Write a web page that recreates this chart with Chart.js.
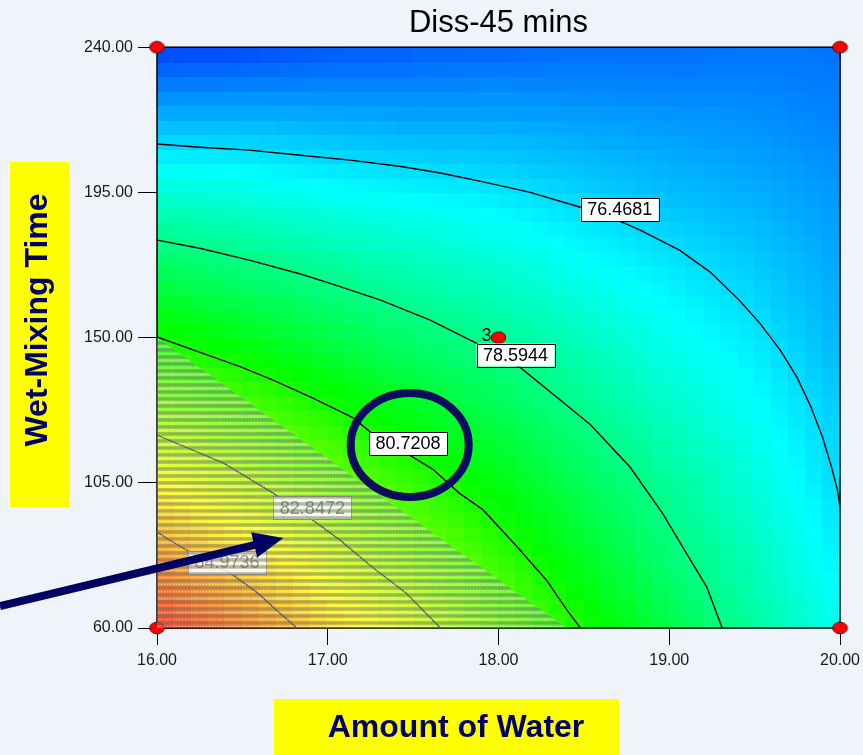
<!DOCTYPE html>
<html>
<head>
<meta charset="utf-8">
<script src="https://cdn.jsdelivr.net/npm/chart.js@4.4.1/dist/chart.umd.min.js"></script>
<style>
  body { margin: 0; background: #eff4fa; }
  canvas { display: block; }
</style>
</head>
<body>
<canvas id="contourChart" width="863" height="755"></canvas>
<script>
// grid of the response (rows from 240 down to 60)
const waterGrid = [16, 16.5, 17, 17.5, 18, 18.5, 19, 19.5, 20];
const timeGrid = [240, 217.5, 195, 172.5, 150, 127.5, 105, 82.5, 60];
const response = [
    [74.3, 74.4, 74.6, 74.7, 74.8, 74.9, 74.9, 75.0, 75.0],
    [75.9, 75.9, 75.8, 75.7, 75.7, 75.6, 75.5, 75.4, 75.2],
    [77.5, 77.3, 77.0, 76.8, 76.6, 76.3, 76.0, 75.8, 75.5],
    [79.1, 78.7, 78.3, 77.9, 77.5, 77.0, 76.6, 76.2, 75.7],
    [80.7, 80.1, 79.5, 78.9, 78.4, 77.8, 77.1, 76.6, 75.9],
    [82.3, 81.6, 80.8, 80.0, 79.3, 78.5, 77.7, 77.0, 76.2],
    [83.9, 83.0, 82.0, 81.1, 80.2, 79.2, 78.3, 77.4, 76.4],
    [85.5, 84.4, 83.3, 82.2, 81.1, 79.9, 78.8, 77.8, 76.7],
    [87.1, 85.9, 84.5, 83.3, 82.0, 80.7, 79.4, 78.2, 77.1]
];

// contour lines [water, time]
const level1 = [[16,210.0],[16.25,209.0],[16.54,208.1],[16.84,206.5],[17.13,205.0],[17.42,203.1],[17.66,201.0],[17.89,198.5],[18.18,195.1],[18.48,190.4],[18.71,186.1],[18.83,183.3],[19.06,177.1],[19.24,170.3],[19.41,161.6],[19.53,154.5],[19.65,146.1],[19.75,137.5],[19.83,128.5],[19.90,118.8],[19.95,109.9],[19.985,102.8],[20,97.5]];
const level2 = [[16,180.2],[16.25,177.7],[16.54,174.0],[16.84,169.7],[17.01,166.9],[17.31,161.6],[17.60,155.4],[17.87,148.3],[18.13,140.6],[18.34,131.6],[18.54,122.9],[18.77,109.9],[18.96,95.6],[19.10,83.2],[19.22,72.7],[19.31,60]];
const level3 = [[16,150.2],[16.49,140.9],[16.68,136.8],[16.91,131.3],[17.15,125.1],[17.25,120.7],[17.48,113.6],[17.62,109.0],[17.77,101.8],[17.91,96.6],[18.11,85.1],[18.28,74.9],[18.40,65.6],[18.48,60]];
const level4 = [[16,119.8],[16.39,111.1],[16.68,101.8],[16.91,93.5],[17.07,87.3],[17.26,78.9],[17.46,70.8],[17.66,60]];
const level5 = [[16,89.7],[16.15,84.8],[16.43,77.0],[16.59,70.8],[16.72,64.6],[16.82,60]];

const levelNames = ['76.4681', '78.5944', '80.7208', '82.8472', '84.9736'];
const labelWater = [18.71, 18.10, 17.47, 16.91, 16.41];
const labelTime = [189.7, 144.6, 117.2, 97.3, 80.3];

// design points
const pointWater = [18, 16, 20, 16, 20];
const pointTime = [150, 240, 240, 60, 60];

// shaded region corners
const shadeWater = [16, 18.40, 16];
const shadeTime = [150, 60, 60];

const xTicks = [16, 17, 18, 19, 20];
const yTicks = [60, 105, 150, 195, 240];

const navy = '#0c0c5e';
const fontFam = 'Arial, "Liberation Sans", sans-serif';

const marker = document.createElement('canvas');
marker.width = 17; marker.height = 14;
(function () {
    const c = marker.getContext('2d');
    c.beginPath();
    c.ellipse(8.5, 7, 7.3, 5.8, 0, 0, Math.PI * 2);
    c.fillStyle = '#ff0000';
    c.fill();
    c.lineWidth = 1;
    c.strokeStyle = '#5a0000';
    c.stroke();
})();

const colorStops = [[0, 0, 255], [0, 255, 255], [0, 255, 0], [255, 255, 0], [255, 0, 0]];
const vMin = 73.4, vMax = 87.4;

function colorFor(v) {
    let t = (v - vMin) / (vMax - vMin);
    t = Math.max(0, Math.min(1, t)) * 4;
    const i = Math.min(3, Math.floor(t));
    const f = t - i;
    const a = colorStops[i], b = colorStops[i + 1];
    return `rgb(${Math.round(a[0] + (b[0] - a[0]) * f)},${Math.round(a[1] + (b[1] - a[1]) * f)},${Math.round(a[2] + (b[2] - a[2]) * f)})`;
}

function valueAt(x, y) {
    const gx = (x - waterGrid[0]) / (waterGrid[1] - waterGrid[0]);
    const gy = (timeGrid[0] - y) / (timeGrid[0] - timeGrid[1]);
    const i = Math.min(waterGrid.length - 2, Math.max(0, Math.floor(gx)));
    const j = Math.min(timeGrid.length - 2, Math.max(0, Math.floor(gy)));
    const fx = gx - i, fy = gy - j;
    const r0 = response[j], r1 = response[j + 1];
    const top = r0[i] + (r0[i + 1] - r0[i]) * fx;
    const bot = r1[i] + (r1[i + 1] - r1[i]) * fx;
    return top + (bot - top) * fy;
}

function drawLabel(ctx, px, py, text, faded) {
    ctx.font = `18px ${fontFam}`;
    const w = ctx.measureText(text).width + 13;
    const h = 23;
    ctx.fillStyle = faded ? 'rgba(255,255,255,0.85)' : '#ffffff';
    ctx.fillRect(px - w / 2, py - h / 2, w, h);
    ctx.lineWidth = 1;
    ctx.strokeStyle = faded ? '#8a8a8a' : '#000000';
    ctx.strokeRect(Math.round(px - w / 2) + 0.5, Math.round(py - h / 2) + 0.5, Math.round(w), h);
    ctx.fillStyle = faded ? '#707070' : '#000000';
    ctx.textAlign = 'center';
    ctx.textBaseline = 'middle';
    ctx.fillText(text, px, py + 1);
}

const contourPlugin = {
    id: 'contourPlugin',
    beforeDraw(chart) {
        const ctx = chart.ctx;
        ctx.save();
        ctx.fillStyle = '#eff4fa';
        ctx.fillRect(0, 0, chart.width, chart.height);
        // axis titles on yellow boxes
        ctx.fillStyle = '#ffff00';
        ctx.fillRect(10, 162, 59, 345);
        ctx.fillRect(274, 699, 345, 56);
        ctx.fillStyle = '#000060';
        ctx.font = `bold 32px ${fontFam}`;
        ctx.textAlign = 'center';
        ctx.textBaseline = 'alphabetic';
        ctx.fillText('Amount of Water', 456, 737);
        ctx.translate(47, 320);
        ctx.rotate(-Math.PI / 2);
        ctx.fillText('Wet-Mixing Time', 0, 0);
        ctx.restore();
    },
    beforeDatasetsDraw(chart) {
        const ctx = chart.ctx;
        const xs = chart.scales.x, ys = chart.scales.y;
        const area = chart.chartArea;
        ctx.save();
        const nx = 40, ny = 40;
        const dx = (xs.max - xs.min) / nx, dy = (ys.max - ys.min) / ny;
        for (let i = 0; i < nx; i++) {
            for (let j = 0; j < ny; j++) {
                const x0 = xs.min + i * dx, y0 = ys.min + j * dy;
                ctx.fillStyle = colorFor(valueAt(x0 + dx / 2, y0 + dy / 2));
                const p0 = xs.getPixelForValue(x0), p1 = xs.getPixelForValue(x0 + dx);
                const q0 = ys.getPixelForValue(y0 + dy), q1 = ys.getPixelForValue(y0);
                ctx.fillRect(Math.floor(p0), Math.floor(q0), Math.ceil(p1 - p0) + 1, Math.ceil(q1 - q0) + 1);
            }
        }
        ctx.restore();
        ctx.save();
        ctx.strokeStyle = '#000';
        ctx.lineWidth = 1.5;
        ctx.strokeRect(area.left, area.top, area.right - area.left, area.bottom - area.top);
        ctx.restore();
    },
    afterDatasetsDraw(chart) {
        const ctx = chart.ctx;
        const xs = chart.scales.x, ys = chart.scales.y;
        const area = chart.chartArea;

        // labels inside the shaded region
        for (let k = 3; k < 5; k++) {
            drawLabel(ctx, xs.getPixelForValue(labelWater[k]), ys.getPixelForValue(labelTime[k]), levelNames[k], true);
        }

        // shaded region with horizontal stripes
        ctx.save();
        ctx.beginPath();
        shadeWater.forEach((w, i) => {
            const px = xs.getPixelForValue(w), py = ys.getPixelForValue(shadeTime[i]);
            if (i === 0) ctx.moveTo(px, py); else ctx.lineTo(px, py);
        });
        ctx.closePath();
        ctx.clip();
        ctx.fillStyle = 'rgba(255,255,255,0.22)';
        ctx.fillRect(area.left - 2, area.top, area.right - area.left, area.bottom - area.top + 2);
        for (let py = area.top; py < area.bottom + 2; py += 7) {
            ctx.fillStyle = 'rgba(95,95,95,0.45)';
            ctx.fillRect(area.left - 2, py, area.right - area.left, 3.5);
            ctx.strokeStyle = 'rgba(255,255,255,0.55)';
            ctx.setLineDash([1, 2]);
            ctx.lineWidth = 1;
            ctx.beginPath();
            ctx.moveTo(area.left - 2, py + 5.5);
            ctx.lineTo(area.right, py + 5.5);
            ctx.stroke();
        }
        ctx.setLineDash([]);
        ctx.restore();

        for (let k = 0; k < 3; k++) {
            drawLabel(ctx, xs.getPixelForValue(labelWater[k]), ys.getPixelForValue(labelTime[k]), levelNames[k], false);
        }

        // replicate count of the centre point
        ctx.save();
        ctx.font = `18px ${fontFam}`;
        ctx.fillStyle = '#000';
        ctx.textAlign = 'right';
        ctx.textBaseline = 'middle';
        ctx.fillText('3', xs.getPixelForValue(pointWater[0]) - 7, ys.getPixelForValue(pointTime[0]) - 2);
        ctx.restore();
    },
    afterDraw(chart) {
        const ctx = chart.ctx;
        const xs = chart.scales.x, ys = chart.scales.y;
        ctx.save();
        // highlight ring
        ctx.strokeStyle = navy;
        ctx.lineWidth = 8;
        ctx.beginPath();
        ctx.ellipse(xs.getPixelForValue(17.48), ys.getPixelForValue(116.7), 59, 52, 0, 0, Math.PI * 2);
        ctx.stroke();
        // arrow into the shaded region
        const sx = xs.getPixelForValue(15.08), sy = ys.getPixelForValue(66.8);
        const tx = xs.getPixelForValue(16.74), ty = ys.getPixelForValue(87.9);
        const len = Math.hypot(tx - sx, ty - sy);
        const ux = (tx - sx) / len, uy = (ty - sy) / len;
        const head = 30, half = 13;
        const bx = tx - ux * head, by = ty - uy * head;
        ctx.strokeStyle = '#000062';
        ctx.lineWidth = 8;
        ctx.beginPath();
        ctx.moveTo(sx, sy);
        ctx.lineTo(bx + ux * 2, by + uy * 2);
        ctx.stroke();
        ctx.fillStyle = '#000062';
        ctx.beginPath();
        ctx.moveTo(tx, ty);
        ctx.lineTo(bx - uy * half, by + ux * half);
        ctx.lineTo(bx + uy * half, by - ux * half);
        ctx.closePath();
        ctx.fill();
        ctx.restore();
    }
};

const toPoints = arr => arr.map(p => ({ x: p[0], y: p[1] }));
const contourSet = (arr, color) => ({
    type: 'line',
    data: toPoints(arr),
    borderColor: color,
    borderWidth: 1.4,
    pointRadius: 0,
    showLine: true,
    fill: false,
    tension: 0
});

new Chart('contourChart', {
    type: 'scatter',
    data: {
        datasets: [
            {
                data: pointWater.map((w, i) => ({ x: w, y: pointTime[i] })),
                pointStyle: marker,
                pointRadius: 7,
                clip: false
            },
            contourSet(level1, '#000000'),
            contourSet(level2, '#000000'),
            contourSet(level3, '#000000'),
            contourSet(level4, '#3a3a3a'),
            contourSet(level5, '#3a3a3a')
        ]
    },
    options: {
        responsive: false,
        animation: false,
        layout: { padding: { left: 0, right: 23, top: 0, bottom: 0 } },
        plugins: {
            legend: { display: false },
            tooltip: { enabled: false },
            title: {
                display: true,
                text: 'Diss-45 mins',
                fullSize: false,
                color: '#000',
                font: { family: fontFam, size: 31, weight: 'normal' },
                padding: { top: 5, bottom: 5 }
            }
        },
        scales: {
            x: {
                type: 'linear',
                min: 16, max: 20,
                afterBuildTicks: s => { s.ticks = xTicks.map(v => ({ value: v })); },
                afterFit: s => { s.height = 127; s.paddingRight = 0; s.paddingLeft = 0; },
                grid: { drawOnChartArea: false, tickLength: 17, tickColor: '#000', color: '#000' },
                border: { display: true, color: '#000' },
                ticks: {
                    padding: 6,
                    color: '#1a1a1a',
                    font: { family: fontFam, size: 16 },
                    callback: v => Number(v).toFixed(2)
                }
            },
            y: {
                type: 'linear',
                min: 60, max: 240,
                afterBuildTicks: s => { s.ticks = yTicks.map(v => ({ value: v })); },
                afterFit: s => { s.width = 157; },
                grid: { drawOnChartArea: false, tickLength: 19, tickColor: '#000', color: '#000' },
                border: { display: true, color: '#000' },
                ticks: {
                    padding: 5,
                    color: '#1a1a1a',
                    font: { family: fontFam, size: 16 },
                    callback: v => Number(v).toFixed(2)
                }
            }
        }
    },
    plugins: [contourPlugin]
});
</script>
</body>
</html>
